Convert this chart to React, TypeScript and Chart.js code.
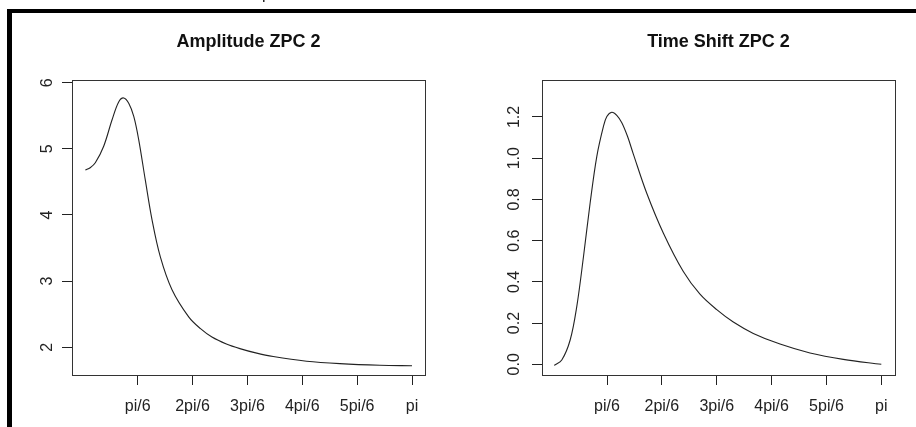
import React, { useEffect, useRef } from "react";
import { Chart, registerables } from "chart.js";

Chart.register(...registerables);

const PI = Math.PI;

// x tick positions (radians) and labels shared by both panels
const xTickValues = [PI / 6, (2 * PI) / 6, (3 * PI) / 6, (4 * PI) / 6, (5 * PI) / 6, PI];
const xTickLabels = ["pi/6", "2pi/6", "3pi/6", "4pi/6", "5pi/6", "pi"];

// Panel 1: Amplitude ZPC 2
const ampTitle = "Amplitude ZPC 2";
const ampX = [0.024, 0.07, 0.119, 0.199, 0.279, 0.342, 0.39, 0.438, 0.486, 0.533, 0.596, 0.66, 0.739, 0.851, 1.01, 1.12, 1.232, 1.37, 1.499, 1.65, 1.817, 2.135, 2.453, 2.835, 3.1416];
const ampY = [4.68, 4.715, 4.79, 5.04, 5.44, 5.71, 5.77, 5.69, 5.49, 5.14, 4.53, 3.93, 3.37, 2.87, 2.46, 2.285, 2.155, 2.05, 1.98, 1.915, 1.86, 1.79, 1.753, 1.728, 1.72];
const ampYTicks = [2, 3, 4, 5, 6];
const ampYLabels = ["2", "3", "4", "5", "6"];

// Panel 2: Time Shift ZPC 2
const shiftTitle = "Time Shift ZPC 2";
const shiftX = [0.019, 0.092, 0.172, 0.235, 0.299, 0.362, 0.426, 0.489, 0.522, 0.569, 0.617, 0.665, 0.72, 0.775, 0.903, 1.062, 1.252, 1.411, 1.571, 1.729, 1.92, 2.175, 2.461, 2.779, 3.1416];
const shiftY = [-0.005, 0.021, 0.118, 0.28, 0.522, 0.78, 1.008, 1.153, 1.202, 1.223, 1.208, 1.172, 1.105, 1.02, 0.83, 0.636, 0.45, 0.34, 0.265, 0.205, 0.15, 0.098, 0.055, 0.024, 0.0];
const shiftYTicks = [0, 0.2, 0.4, 0.6, 0.8, 1.0, 1.2];
const shiftYLabels = ["0.0", "0.2", "0.4", "0.6", "0.8", "1.0", "1.2"];

const FONT = '"Liberation Sans", Arial, Helvetica, sans-serif';
const INK = "#222";

const boxPlugin = {
  id: "rbox",
  afterDraw(chart: any) {
    const { ctx, chartArea: a } = chart;
    ctx.save();
    ctx.strokeStyle = "#333";
    ctx.lineWidth = 1;
    ctx.strokeRect(a.left + 0.5, a.top + 0.5, a.right - a.left, a.bottom - a.top);
    ctx.restore();
  },
};

type PanelProps = {
  offset: number;
  xs: number[];
  ys: number[];
  yTicks: number[];
  yLabels: string[];
  xMin: number;
  xMax: number;
  yMin: number;
  yMax: number;
  padLeft: number;
  padRight: number;
  yLabelPad: number;
};

function Panel(p: PanelProps) {
  const ref = useRef<HTMLCanvasElement | null>(null);
  useEffect(() => {
    if (!ref.current) return;
    const chart = new Chart(ref.current, {
      type: "line",
      data: {
        datasets: [
          {
            data: p.xs.map((x, i) => ({ x, y: p.ys[i] })),
            borderColor: INK,
            borderWidth: 1.1,
            pointRadius: 0,
            tension: 0.35,
            fill: false,
          },
        ],
      },
      options: {
        animation: false,
        responsive: false,
        devicePixelRatio: 1,
        layout: { padding: { left: p.padLeft, right: p.padRight, top: 80, bottom: 12 } },
        plugins: { legend: { display: false }, tooltip: { enabled: false }, title: { display: false } },
        scales: {
          x: {
            type: "linear",
            min: p.xMin,
            max: p.xMax,
            afterBuildTicks: (s: any) => {
              s.ticks = xTickValues.map((v) => ({ value: v }));
            },
            afterFit: (s: any) => {
              s.height = 40;
            },
            grid: { drawOnChartArea: false, drawTicks: true, tickLength: 10, color: INK, tickColor: INK, lineWidth: 1 },
            border: { display: false },
            ticks: {
              autoSkip: false,
              maxRotation: 0,
              minRotation: 0,
              padding: 12,
              color: INK,
              font: { family: FONT, size: 16 },
              callback: (_v: any, i: number) => xTickLabels[i],
            },
          },
          y: {
            type: "linear",
            min: p.yMin,
            max: p.yMax,
            afterBuildTicks: (s: any) => {
              s.ticks = p.yTicks.map((v) => ({ value: v }));
            },
            afterFit: (s: any) => {
              s.width = 60;
            },
            grid: { drawOnChartArea: false, drawTicks: true, tickLength: 10, color: INK, tickColor: INK, lineWidth: 1 },
            border: { display: false },
            ticks: {
              autoSkip: false,
              minRotation: 90,
              maxRotation: 90,
              crossAlign: "center",
              padding: p.yLabelPad,
              color: INK,
              font: { family: FONT, size: 16 },
              callback: (_v: any, i: number) => p.yLabels[i],
            },
          },
        },
      } as any,
      plugins: [boxPlugin],
    });
    return () => chart.destroy();
  }, []);
  return (
    <canvas
      ref={ref}
      width={458}
      height={427}
      style={{ position: "absolute", left: p.offset, top: 0, width: 458, height: 427 }}
    />
  );
}

const titleStyle = (left: number, width: number): React.CSSProperties => ({
  position: "absolute",
  left,
  width,
  top: 31,
  textAlign: "center",
  font: `bold 18px ${FONT}`,
  lineHeight: "20px",
  color: "#111",
});

export default function App() {
  return (
    <div style={{ position: "fixed", left: 0, top: 0, width: 916, height: 427, background: "#fff", overflow: "hidden" }}>
      <Panel
        offset={0}
        xs={ampX}
        ys={ampY}
        yTicks={ampYTicks}
        yLabels={ampYLabels}
        xMin={-0.1035}
        xMax={PI + 0.124}
        yMin={1.581}
        yMax={6.041}
        padLeft={12}
        padRight={33}
        yLabelPad={10}
      />
      <Panel
        offset={458}
        xs={shiftX}
        ys={shiftY}
        yTicks={shiftYTicks}
        yLabels={shiftYLabels}
        xMin={-0.0968}
        xMax={PI + 0.1307}
        yMin={-0.0519}
        yMax={1.3794}
        padLeft={24}
        padRight={21}
        yLabelPad={6.5}
      />
      <div style={titleStyle(72, 353)}>{ampTitle}</div>
      <div style={titleStyle(542, 353)}>{shiftTitle}</div>
      <div style={{ position: "absolute", left: 7, top: 9, width: 909, height: 4, background: "#000" }} />
      <div style={{ position: "absolute", left: 7, top: 9, width: 5, height: 418, background: "#000" }} />
      <div style={{ position: "absolute", left: 262, top: 0, width: 12, height: 4, overflow: "hidden" }}>
        <div style={{ position: "absolute", left: 0, top: -14, font: `16px ${FONT}`, lineHeight: "16px", color: "#111" }}>p</div>
      </div>
    </div>
  );
}
